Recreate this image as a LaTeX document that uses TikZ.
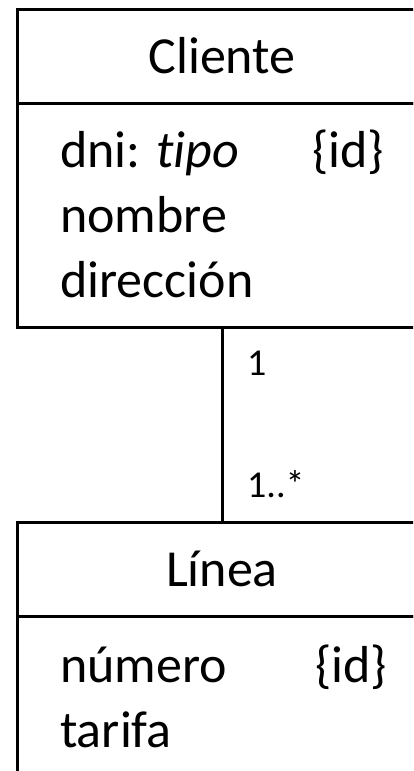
\documentclass[tikz,border=0pt]{standalone}
\usepackage{fontspec}
\setmainfont{Carlito}[Ligatures=NoCommon]
\usetikzlibrary{positioning}
\tikzset{
  classhead/.style={draw, line width=3pt, outer sep=0pt, inner sep=0pt,
                    minimum width=410pt, minimum height=94pt,
                    font=\fontsize{52}{62}\selectfont},
  classbody/.style={draw, line width=3pt, outer sep=0pt, inner sep=0pt,
                    minimum width=410pt},
  attr/.style={anchor=base west, inner sep=0pt, font=\fontsize{52}{62}\selectfont},
  mult/.style={anchor=base west, inner sep=0pt, font=\fontsize{38}{46}\selectfont}
}

\begin{document}
\begin{tikzpicture}[x=1pt,y=-1pt]
  \useasboundingbox (0,0) rectangle (413,771);
  \clip (0,0) rectangle (413,771);
  \node[classhead] (cliente) at (222,56) {Cliente};
  \node[classbody, minimum height=224pt, below=0pt of cliente] (clienteattr) {};
  \node[attr] (dni) at (60,167) {dni: \textit{tipo}};
  \node[attr] (dniid) at (312,167) {\{id\}};
  \node[attr] (nombre) at (60,232) {nombre};
  \node[attr] (direccion) at (60,297) {dirección};
  \node[classhead] (linea) at (222,569) {Línea};
  \node[classbody, minimum height=220pt, below=0pt of linea] (lineaattr) {};
  \node[attr] (numero) at (60,682) {número};
  \node[attr] (numeroid) at (315,682) {\{id\}};
  \node[attr] (tarifa) at (60,747) {tarifa};
  \draw[line width=3pt] (clienteattr.south) -- (linea.north);
  \node[mult] (multcliente) at (247,375) {1};
  \node[mult] (multlinea) at (247,497) {1..*};
\end{tikzpicture}
\end{document}
